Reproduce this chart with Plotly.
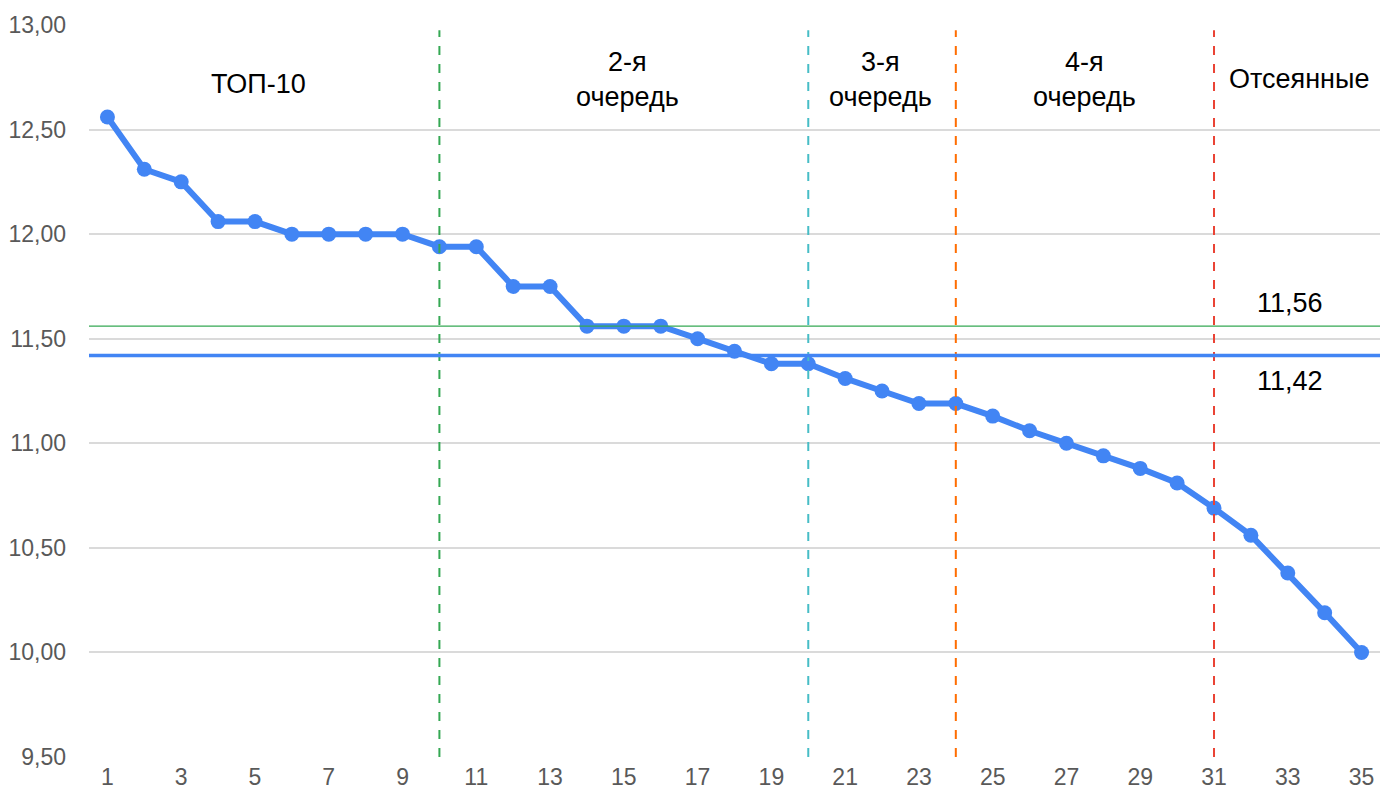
import plotly.graph_objects as go

positions = list(range(1, 36))
scores = [12.56, 12.31, 12.25, 12.06, 12.06, 12.00, 12.00, 12.00, 12.00, 11.94,
          11.94, 11.75, 11.75, 11.56, 11.56, 11.56, 11.50, 11.44, 11.38, 11.38,
          11.31, 11.25, 11.19, 11.19, 11.13, 11.06, 11.00, 10.94, 10.88, 10.81,
          10.69, 10.56, 10.38, 10.19, 10.00]

y_ticks = [9.5, 10.0, 10.5, 11.0, 11.5, 12.0, 12.5, 13.0]
y_tick_labels = ["9,50", "10,00", "10,50", "11,00", "11,50", "12,00", "12,50", "13,00"]
x_ticks = list(range(1, 36, 2))

boundaries = [10, 20, 24, 31]
boundary_colors = ["#34A853", "#46BDC6", "#FF6D01", "#EA4335"]

avg_top = 11.56
avg_all = 11.42

group_labels = ["ТОП-10", "2-я<br>очередь", "3-я<br>очередь", "4-я<br>очередь", "Отсеянные"]
group_label_x = [5.1, 15.1, 21.95, 27.5, 33.3]
group_label_y = [12.72, 12.74, 12.74, 12.74, 12.74]

fig = go.Figure()

fig.add_trace(go.Scatter(
    x=positions, y=scores, mode="lines+markers",
    line=dict(color="#4285F4", width=6),
    marker=dict(color="#4285F4", size=15),
    showlegend=False, hoverinfo="x+y"
))

shapes = []
for b, c in zip(boundaries, boundary_colors):
    shapes.append(dict(type="line", xref="x", yref="y", x0=b, x1=b, y0=9.5, y1=12.975,
                       line=dict(color=c, width=2, dash="dash"), layer="above"))
shapes.append(dict(type="line", xref="paper", yref="y", x0=0, x1=1, y0=avg_top, y1=avg_top,
                   line=dict(color="#34A853", width=1.2), layer="above"))
shapes.append(dict(type="line", xref="paper", yref="y", x0=0, x1=1, y0=avg_all, y1=avg_all,
                   line=dict(color="#4285F4", width=3.5), layer="above"))

ann_font = dict(size=27, color="#000000", family="Liberation Sans, Arial")
annotations = []
for t, x, y in zip(group_labels, group_label_x, group_label_y):
    annotations.append(dict(x=x, y=y, xref="x", yref="y", text=t, showarrow=False,
                            font=ann_font, align="center"))
annotations.append(dict(x=33.05, y=avg_top, xref="x", yref="y", text="11,56", showarrow=False,
                        yanchor="bottom", yshift=6, font=ann_font))
annotations.append(dict(x=33.05, y=avg_all, xref="x", yref="y", text="11,42", showarrow=False,
                        yanchor="top", yshift=-9, font=ann_font))

fig.update_layout(
    width=1382, height=785,
    margin=dict(l=81, r=10, t=17, b=36),
    plot_bgcolor="white", paper_bgcolor="white",
    font=dict(family="Liberation Sans, Arial", size=23, color="#595959"),
    shapes=shapes, annotations=annotations,
    xaxis=dict(range=[0.5, 35.5], tickmode="array", tickvals=x_ticks,
               ticktext=[str(v) for v in x_ticks], showgrid=False, zeroline=False,
               showline=False, ticks="", ticklabelstandoff=4, automargin=False,
               tickfont=dict(size=23)),
    yaxis=dict(range=[9.5, 13.0], tickmode="array", tickvals=y_ticks, ticktext=y_tick_labels,
               showgrid=True, gridcolor="#DADADA", gridwidth=2, zeroline=False,
               showline=False, ticks="", ticklabelstandoff=22, automargin=False,
               tickfont=dict(size=23)),
)

fig.write_html("out.html")
